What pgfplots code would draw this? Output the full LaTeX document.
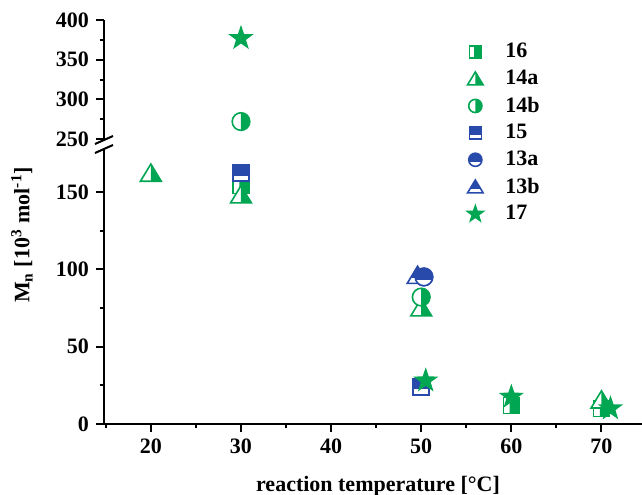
\documentclass[border=0pt]{standalone}
\usepackage{fontspec}
\setmainfont{Liberation Serif}
\usepackage{pgfplots}
\pgfplotsset{compat=1.18}

\definecolor{mgreen}{RGB}{0,166,81}
\definecolor{mblue}{RGB}{40,74,170}

% half-filled marks
\newcommand\wfill[1]{\begin{pgfscope}\pgfsetfillcolor{white}#1\pgfusepathqfill\end{pgfscope}}
\newcommand\sqpath{\pgfpathrectanglecorners{\pgfpoint{-\pgfplotmarksize}{-\pgfplotmarksize}}{\pgfpoint{\pgfplotmarksize}{\pgfplotmarksize}}}
\newcommand\tripath{\pgfpathmoveto{\pgfpoint{0pt}{1.15\pgfplotmarksize}}%
  \pgfpathlineto{\pgfpoint{-1.3\pgfplotmarksize}{-\pgfplotmarksize}}%
  \pgfpathlineto{\pgfpoint{1.3\pgfplotmarksize}{-\pgfplotmarksize}}\pgfpathclose}
\newcommand\cirpath{\pgfpathcircle{\pgfpointorigin}{1.1\pgfplotmarksize}}
\newcommand\cliptop[1]{\pgfpathrectanglecorners{\pgfpoint{-2\pgfplotmarksize}{#1\pgfplotmarksize}}{\pgfpoint{2\pgfplotmarksize}{2\pgfplotmarksize}}\pgfusepath{clip}}
\newcommand\clipright[1]{\pgfpathrectanglecorners{\pgfpoint{#1\pgfplotmarksize}{-2\pgfplotmarksize}}{\pgfpoint{2\pgfplotmarksize}{2\pgfplotmarksize}}\pgfusepath{clip}}

\pgfdeclareplotmark{sqR}{\wfill{\sqpath}%
  \begin{pgfscope}\clipright{-0.2}\sqpath\pgfusepathqfill\end{pgfscope}\sqpath\pgfusepathqstroke}
\pgfdeclareplotmark{sqT}{\wfill{\sqpath}%
  \begin{pgfscope}\cliptop{-0.25}\sqpath\pgfusepathqfill\end{pgfscope}\sqpath\pgfusepathqstroke}
\pgfdeclareplotmark{triR}{\wfill{\tripath}%
  \begin{pgfscope}\clipright{0}\tripath\pgfusepathqfill\end{pgfscope}\tripath\pgfusepathqstroke}
\pgfdeclareplotmark{triT}{\wfill{\tripath}%
  \begin{pgfscope}\cliptop{-0.3}\tripath\pgfusepathqfill\end{pgfscope}\tripath\pgfusepathqstroke}
\pgfdeclareplotmark{cirR}{\wfill{\cirpath}%
  \begin{pgfscope}\clipright{0}\cirpath\pgfusepathqfill\end{pgfscope}\cirpath\pgfusepathqstroke}
\pgfdeclareplotmark{cirT}{\wfill{\cirpath}%
  \begin{pgfscope}\cliptop{-0.3}\cirpath\pgfusepathqfill\end{pgfscope}\cirpath\pgfusepathqstroke}
\pgfdeclareplotmark{fstar}{%
  \pgfpathmoveto{\pgfpointpolar{90}{1.35\pgfplotmarksize}}%
  \pgfpathlineto{\pgfpointpolar{126}{0.53\pgfplotmarksize}}%
  \pgfpathlineto{\pgfpointpolar{162}{1.35\pgfplotmarksize}}%
  \pgfpathlineto{\pgfpointpolar{198}{0.53\pgfplotmarksize}}%
  \pgfpathlineto{\pgfpointpolar{234}{1.35\pgfplotmarksize}}%
  \pgfpathlineto{\pgfpointpolar{270}{0.53\pgfplotmarksize}}%
  \pgfpathlineto{\pgfpointpolar{306}{1.35\pgfplotmarksize}}%
  \pgfpathlineto{\pgfpointpolar{342}{0.53\pgfplotmarksize}}%
  \pgfpathlineto{\pgfpointpolar{18}{1.35\pgfplotmarksize}}%
  \pgfpathlineto{\pgfpointpolar{54}{0.53\pgfplotmarksize}}%
  \pgfpathclose\pgfusepathqfillstroke}

\pgfplotsset{
  common/.style={
    scale only axis, width=269pt,
    xmin=14.8, xmax=74.5,
    axis y line*=left,
    axis line style={line width=1pt,-},
    tick align=outside, major tick length=4pt, minor tick length=2.2pt,
    tick style={line width=1pt, black},
    /pgf/number format/assume math mode=true,
    clip mode=individual,
    every axis plot/.append style={only marks, mark size=4pt,
      mark options={solid, line width=0.8pt}},
  },
}

\newcommand\plotall{%
\addplot[mgreen, mark=sqR] coordinates {(30,154) (60,12) (70,10)};
\addplot[mgreen, mark=triR] coordinates {(20,162) (30,148) (50,75) (70,15.5)};
\addplot[mgreen, mark=cirR] coordinates {(30,272) (50,82)};
\addplot[mblue, mark=sqT] coordinates {(30,162) (50,24)};
\addplot[mblue, mark=cirT] coordinates {(50.3,95)};
\addplot[mblue, mark=triT] coordinates {(49.6,96)};
\addplot[mblue, mark=cirT, forget plot] coordinates {(50.3,95)};
\addplot[mgreen, mark=fstar] coordinates {(30,377) (50.5,28) (60,17.5) (71,10)};
}

\begin{document}
\begin{tikzpicture}[font=\fontsize{11}{13}\selectfont\bfseries]
\begin{axis}[common,
  name=lower, height=137pt,
  ymin=0, ymax=177,
  axis x line*=bottom,
  xtick={20,30,...,70}, minor xtick={15,25,35,45,55,65},
  ytick={0,50,100,150}, minor ytick={25,75,125},
  restrict y to domain=-10:200,
  legend style={at={(rel axis cs:0.656,1.42)}, anchor=north west,
    draw=none, fill=none, row sep=0.6pt, column sep=7pt,
    font=\fontsize{11}{13}\selectfont\bfseries},
  legend cell align=left,
  legend image post style={mark size=3pt},
]
\plotall
\legend{16,14a,14b,15,13a,13b,17}
\node[rotate=90] at ([xshift=-41pt]rel axis cs:0,0.69)
  {M\textsubscript{n} [10\textsuperscript{3} mol\textsuperscript{-1}]};
\node at ([xshift=2.5pt,yshift=-31pt]rel axis cs:0.5,0) {reaction temperature [°C]};
\end{axis}
\begin{axis}[common,
  at={(0,142.5pt)}, anchor=south west, height=59.5pt,
  ymin=250, ymax=400,
  axis x line=none,
  ytick={250,300,350,400}, minor ytick={275,325,375},
  restrict y to domain=240:420,
]
\plotall
\draw[line width=1pt] ([xshift=-4.5pt,yshift=-2.5pt]rel axis cs:0,0) -- ++(9pt,4pt);
\draw[line width=1pt] ([xshift=-4.5pt,yshift=-7pt]rel axis cs:0,0) -- ++(9pt,4pt);
\end{axis}
\pgfresetboundingbox
\path ([xshift=-52pt,yshift=-35pt]lower.south west) rectangle ([yshift=212pt]lower.south east);
\end{tikzpicture}
\end{document}
